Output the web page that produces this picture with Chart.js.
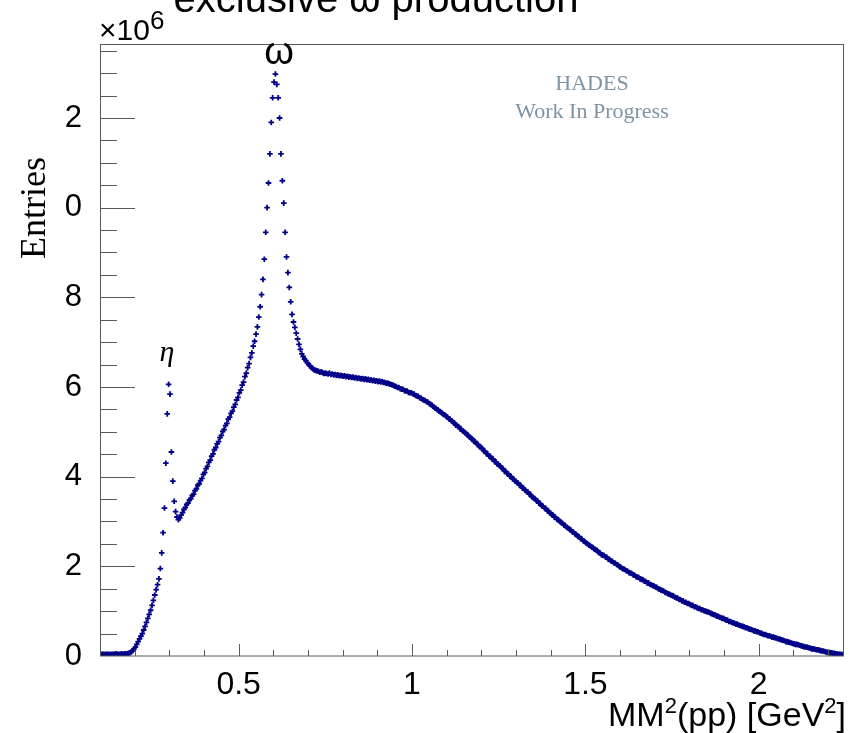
<!DOCTYPE html>
<html>
<head>
<meta charset="utf-8">
<script src="https://cdn.jsdelivr.net/npm/chart.js@4.4.1/dist/chart.umd.min.js"></script>
<style>
  html, body { margin: 0; padding: 0; background: #fff; }
</style>
</head>
<body>
<canvas id="mm2" width="850" height="733"></canvas>
<script>
// histogram binning (GeV^2)
const binStart = 0.1;
const binWidth = 0.004;

// entries per bin, in units of 10^6
const countsEta = [
  0.03, 0.04, 0.04, 0.03, 0.04, 0.04, 0.04, 0.03, 0.04, 0.04,
  0.04, 0.05, 0.04, 0.04, 0.04, 0.05, 0.04, 0.05, 0.05, 0.05,
  0.06, 0.07, 0.09, 0.12, 0.16, 0.20, 0.26, 0.32, 0.38, 0.44,
  0.50, 0.58, 0.66, 0.75, 0.84, 0.93, 1.02, 1.13, 1.24, 1.36,
  1.48, 1.59, 1.72, 1.95, 2.30, 2.75, 3.30, 4.30, 5.40, 6.06,
  5.84, 4.55, 3.90, 3.45, 3.22, 3.10, 3.04, 3.08
];
const countsOmega = [
  3.14, 3.20, 3.27, 3.31, 3.38, 3.41, 3.48, 3.51, 3.58, 3.61,
  3.69, 3.73, 3.81, 3.84, 3.91, 3.96, 4.05, 4.09, 4.18, 4.23,
  4.32, 4.37, 4.46, 4.51, 4.60, 4.65, 4.73, 4.78, 4.87, 4.92,
  5.01, 5.05, 5.14, 5.19, 5.28, 5.33, 5.41, 5.46, 5.55, 5.61,
  5.71, 5.77, 5.87, 5.93, 6.04, 6.11, 6.23, 6.31, 6.43, 6.52,
  6.66, 6.76, 6.91, 7.02, 7.18, 7.34, 7.56, 7.79, 8.06, 8.40,
  8.85, 9.45, 10.00, 10.55, 11.20, 11.90, 12.45, 12.80, 12.98, 12.75,
  12.45, 12.00, 11.20, 10.60, 10.10, 9.45, 8.90, 8.55, 8.22, 7.90,
  7.62, 7.45, 7.33, 7.20, 7.07, 6.95, 6.84, 6.74, 6.68, 6.62,
  6.59, 6.54, 6.50, 6.47, 6.43, 6.41, 6.38
];
const countsShoulder = [
  6.37, 6.36, 6.35, 6.33, 6.34, 6.32, 6.30, 6.31,
  6.30, 6.29, 6.31, 6.28, 6.29, 6.27, 6.28, 6.26, 6.27, 6.25, 6.26, 6.25,
  6.24, 6.25, 6.23, 6.24, 6.22, 6.23, 6.21, 6.22, 6.20, 6.21, 6.19, 6.20, 6.19,
  6.18, 6.19, 6.17, 6.18, 6.16, 6.17, 6.15, 6.16, 6.14, 6.15, 6.13, 6.14,
  6.12, 6.13, 6.11, 6.12, 6.10, 6.10, 6.08, 6.09, 6.07, 6.06, 6.05, 6.04, 6.02,
  6.01, 5.99, 5.99, 5.96, 5.95, 5.95, 5.92, 5.91, 5.91, 5.88, 5.87, 5.87,
  5.85, 5.84, 5.81, 5.80, 5.79, 5.76, 5.75, 5.72, 5.71, 5.70, 5.67, 5.66, 5.63,
  5.61, 5.59, 5.56, 5.53, 5.52, 5.49, 5.46, 5.45, 5.42, 5.39, 5.38, 5.35
];
const countsTail = [
  5.33, 5.29, 5.28, 5.24, 5.22, 5.20, 5.15, 5.14, 5.12, 5.07, 5.06, 5.02, 5.00,
  4.98, 4.94, 4.92, 4.88, 4.86, 4.84, 4.79, 4.78, 4.74, 4.72, 4.67, 4.66,
  4.63, 4.58, 4.57, 4.52, 4.51, 4.46, 4.45, 4.40, 4.39, 4.34, 4.33, 4.28, 4.26,
  4.24, 4.20, 4.18, 4.13, 4.12, 4.07, 4.06, 4.01, 4.00, 3.95, 3.94, 3.90,
  3.87, 3.86, 3.81, 3.80, 3.75, 3.74, 3.70, 3.67, 3.66, 3.61, 3.60, 3.55, 3.53,
  3.51, 3.47, 3.46, 3.41, 3.40, 3.35, 3.34, 3.30, 3.29, 3.24, 3.23, 3.19,
  3.16, 3.15, 3.10, 3.09, 3.05, 3.04, 3.00, 2.98, 2.96, 2.92, 2.91, 2.87, 2.85,
  2.83, 2.81, 2.77, 2.76, 2.72, 2.71, 2.67, 2.66, 2.62, 2.61, 2.57, 2.55,
  2.52, 2.51, 2.47, 2.46, 2.43, 2.42, 2.38, 2.37, 2.35, 2.31, 2.30, 2.26, 2.25,
  2.24, 2.21, 2.20, 2.16, 2.15, 2.12, 2.11, 2.08, 2.07, 2.04, 2.03, 2.00,
  1.98, 1.95, 1.94, 1.93, 1.90, 1.89, 1.86, 1.85, 1.84, 1.81, 1.80, 1.77, 1.76,
  1.75, 1.72, 1.71, 1.70, 1.67, 1.66, 1.63, 1.63, 1.60, 1.59, 1.57, 1.56,
  1.54, 1.53, 1.50, 1.49, 1.47, 1.46, 1.45, 1.42, 1.41, 1.39, 1.38, 1.36, 1.35,
  1.34, 1.31, 1.30, 1.29, 1.26, 1.26, 1.23, 1.23, 1.20, 1.20, 1.17, 1.17,
  1.15, 1.13, 1.13, 1.10, 1.10, 1.08, 1.06, 1.06, 1.03, 1.03, 1.01, 1.00, 0.99,
  0.98, 0.97, 0.95, 0.94, 0.92, 0.92, 0.89, 0.89, 0.87, 0.86, 0.84, 0.84,
  0.82, 0.80, 0.80, 0.77, 0.77, 0.75, 0.74, 0.73, 0.71, 0.71, 0.69, 0.68, 0.67,
  0.66, 0.65, 0.63, 0.63, 0.61, 0.60, 0.59, 0.58, 0.56, 0.56, 0.54, 0.54,
  0.52, 0.51, 0.50, 0.48, 0.48, 0.47, 0.45, 0.45, 0.44, 0.42, 0.42, 0.41, 0.40,
  0.39, 0.38, 0.37, 0.36, 0.35, 0.34, 0.32, 0.32, 0.31, 0.30, 0.29, 0.28,
  0.27, 0.26, 0.26, 0.25, 0.24, 0.23, 0.22, 0.21, 0.20, 0.20, 0.19, 0.18, 0.17,
  0.16, 0.16, 0.15, 0.14, 0.14, 0.13, 0.12, 0.11, 0.11, 0.10, 0.09, 0.08,
  0.08, 0.07, 0.07, 0.06, 0.06, 0.05, 0.05, 0.04, 0.04, 0.03, 0.03, 0.02
];

const xTicks = [0.5, 1, 1.5, 2];
const xTickLabels = ['0.5', '1', '1.5', '2'];
const yTicks = [0, 2, 4, 6, 8, 10, 12];
const yTickLabels = ['0', '2', '4', '6', '8', '0', '2'];

const counts = [...countsEta, ...countsOmega, ...countsShoulder, ...countsTail];
const points = counts.map((v, i) => ({ x: binStart + binWidth * (i + 0.5), y: v }));

const SANS = "'Liberation Sans', Arial, sans-serif";
const SERIF = "'Liberation Serif', 'Times New Roman', serif";

// draw a row of text pieces (some raised as superscripts)
function runs(ctx, parts, x, y) {
  let cx = x;
  parts.forEach(p => {
    ctx.font = p.font;
    ctx.fillText(p.t, cx, y - (p.up || 0));
    cx += ctx.measureText(p.t).width;
  });
}
function runsWidth(ctx, parts) {
  let w = 0;
  parts.forEach(p => { ctx.font = p.font; w += ctx.measureText(p.t).width; });
  return w;
}

const rootFrame = {
  id: 'rootFrame',
  afterDraw(chart) {
    const { ctx, chartArea: a, scales: { x, y } } = chart;
    ctx.save();
    // frame
    ctx.strokeStyle = '#5a5a5a';
    ctx.lineWidth = 1;
    ctx.strokeRect(a.left + 0.5, a.top + 0.5, a.right - a.left - 1, a.bottom - a.top - 0.5);

    // ticks inside the frame
    ctx.beginPath();
    for (let k = 2; k <= 22; k++) {
      const px = Math.round(x.getPixelForValue(k / 10)) + 0.5;
      const len = k % 5 === 0 ? 12 : 6;
      ctx.moveTo(px, a.bottom);
      ctx.lineTo(px, a.bottom - len);
    }
    for (let k = 1; k <= 27; k++) {
      const py = Math.round(y.getPixelForValue(k * 0.5)) + 0.5;
      const len = k % 4 === 0 ? 35 : 17;
      ctx.moveTo(a.left, py);
      ctx.lineTo(a.left + len, py);
    }
    ctx.stroke();

    ctx.fillStyle = '#000';
    ctx.textBaseline = 'alphabetic';

    // title (clipped by the top edge)
    ctx.textAlign = 'center';
    ctx.font = '40px ' + SANS;
    ctx.fillText('exclusive \u03c9 production', 376, 12);

    // exponent
    ctx.textAlign = 'left';
    runs(ctx, [
      { t: '\u00d710', font: '30px ' + SANS },
      { t: '6', font: '26px ' + SANS, up: 11 }
    ], 99, 40);

    // peak labels
    ctx.textAlign = 'center';
    ctx.font = '38px ' + SANS;
    ctx.fillText('\u03c9', 279, 64);
    ctx.font = 'italic 30px ' + SERIF;
    ctx.fillText('\u03b7', 167, 361);

    // watermark
    ctx.fillStyle = '#7d94a5';
    ctx.font = '22px ' + SERIF;
    ctx.fillText('HADES', 592, 90);
    ctx.fillText('Work In Progress', 592, 118);

    // y title
    ctx.fillStyle = '#000';
    ctx.save();
    ctx.translate(45, 208);
    ctx.rotate(-Math.PI / 2);
    ctx.font = '36px ' + SERIF;
    ctx.fillText('Entries', 0, 0);
    ctx.restore();

    // x title, right aligned
    ctx.textAlign = 'left';
    const xt = [
      { t: 'MM', font: '34px ' + SANS },
      { t: '2', font: '22px ' + SANS, up: 13 },
      { t: '(pp) [GeV', font: '34px ' + SANS },
      { t: '2', font: '22px ' + SANS, up: 13 },
      { t: ']', font: '34px ' + SANS }
    ];
    runs(ctx, xt, 846 - runsWidth(ctx, xt), 726);
    ctx.restore();
  }
};

new Chart(document.getElementById('mm2'), {
  type: 'scatter',
  data: {
    datasets: [{
      data: points,
      showLine: false,
      pointStyle: 'cross',
      pointRadius: 2.8,
      pointBorderWidth: 1.8,
      borderColor: '#000088',
      backgroundColor: '#000088'
    }]
  },
  options: {
    responsive: false,
    animation: false,
    layout: { padding: { top: 44, right: 6, left: 0, bottom: 0 } },
    plugins: { legend: { display: false }, tooltip: { enabled: false } },
    scales: {
      x: {
        type: 'linear',
        min: 0.1,
        max: 2.246,
        grid: { display: false },
        border: { display: false },
        afterBuildTicks: s => { s.ticks = xTicks.map(v => ({ value: v })); },
        afterFit: s => { s.height = 77; },
        ticks: {
          color: '#000',
          padding: 2,
          maxRotation: 0,
          autoSkip: false,
          font: { family: SANS, size: 32 },
          callback: (v, i) => xTickLabels[i]
        }
      },
      y: {
        min: 0,
        max: 13.65,
        grid: { display: false },
        border: { display: false },
        afterBuildTicks: s => { s.ticks = yTicks.map(v => ({ value: v })); },
        afterFit: s => { s.width = 100; },
        ticks: {
          color: '#000',
          padding: 10,
          autoSkip: false,
          font: { family: SANS, size: 31 },
          callback: (v, i) => yTickLabels[i]
        }
      }
    }
  },
  plugins: [rootFrame]
});
</script>
</body>
</html>
